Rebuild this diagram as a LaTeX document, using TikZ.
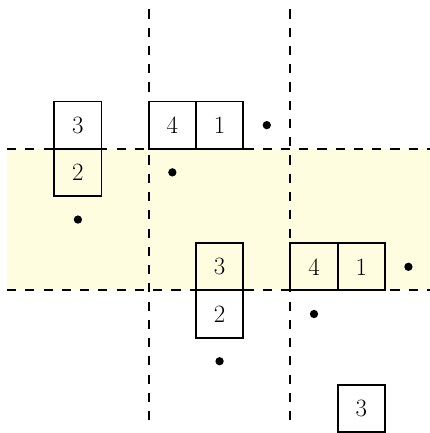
\documentclass[tikz,border=0pt]{standalone}
\usetikzlibrary{positioning}
\tikzset{
  cell/.style={draw, line width=1.1pt, minimum size=1cm, inner sep=0pt, outer sep=0pt,
    font=\fontsize{15}{18}\selectfont},
  token/.style={circle, fill, inner sep=0pt, minimum size=5pt},
  sepline/.style={dash pattern=on 5.5pt off 5.5pt, line width=1.1pt},
}
\begin{document}
\begin{tikzpicture}
\useasboundingbox (-0.15,0.15) rectangle (8.94,-9.02);

% Band and separators
\fill[yellow!12] (0,-3) rectangle (9,-6);
\draw[sepline] (0,-3) -- (9,-3);
\draw[sepline] (0,-6) -- (9,-6);
\draw[sepline] (3,-0.05) -- (3,-8.9);
\draw[sepline] (6,-0.05) -- (6,-8.9);

% Left column
\node[cell] (l3) at (1.5,-2.5) {3};
\node[cell, below=0pt of l3] (l2) {2};
\node[token] (ldot) at (1.5,-4.5) {};

% Middle column
\node[cell] (m4) at (3.5,-2.5) {4};
\node[cell, right=0pt of m4] (m1) {1};
\node[token] (mtop) at (5.5,-2.5) {};
\node[token] (mmid) at (3.5,-3.5) {};
\node[cell] (m3) at (4.5,-5.5) {3};
\node[cell, below=0pt of m3] (m2) {2};
\node[token] (mlow) at (4.5,-7.5) {};

% Right column
\node[cell] (r4) at (6.5,-5.5) {4};
\node[cell, right=0pt of r4] (r1) {1};
\node[token] (rtop) at (8.5,-5.5) {};
\node[token] (rmid) at (6.5,-6.5) {};
\node[cell] (r3) at (7.5,-8.5) {3};

\end{tikzpicture}
\end{document}
